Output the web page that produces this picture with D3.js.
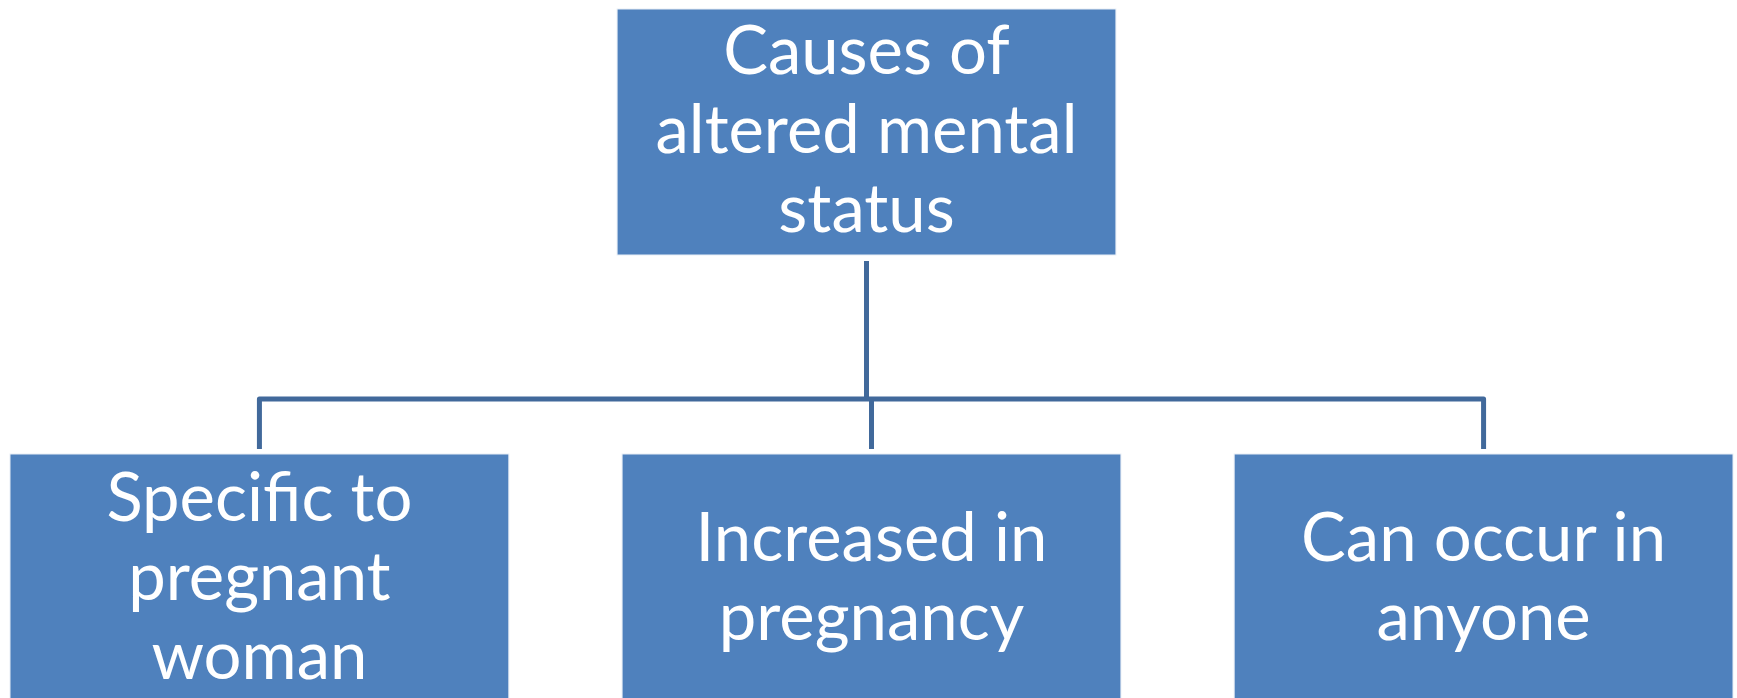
<!DOCTYPE html>
<html>
<head>
<meta charset="utf-8">
<script src="https://cdn.jsdelivr.net/npm/d3@7"></script>
<style>
  html, body { margin: 0; padding: 0; background: #fff; }
  svg { display: block; }
</style>
</head>
<body>
<div id="chart"></div>
<script>
// chart content
const rootLabel = ["Causes of", "altered mental", "status"];
const childNames = ["specific", "increased", "anyone"];
const childLabels = [
  ["Specific to", "pregnant", "woman"],
  ["Increased in", "pregnancy"],
  ["Can occur in", "anyone"]
];

const [width, height] = [1737, 698];
const boxFill = "#4f81bd";
const lineColor = "#41699b";
const fontSize = 67;
const lineGap = 79;

const svg = d3.select("#chart").append("svg").attr("width", width).attr("height", height);

const x = d3.scaleBand().domain(childNames).range([10, 1733]).paddingInner(0.185).paddingOuter(0);
const bw = x.bandwidth();
const rootX = x(childNames[1]) - 5;
const levelY = { root: 9, rootH: 246, bus: 399, child: 454, childH: 260 };

// connectors
const g = svg.append("g").attr("fill", "none").attr("stroke", lineColor).attr("stroke-width", 5);
g.append("line")
  .attr("x1", rootX + bw/2).attr("x2", rootX + bw/2)
  .attr("y1", levelY.root + levelY.rootH + 6).attr("y2", levelY.bus);
g.append("path")
  .attr("stroke-linejoin", "round")
  .attr("d", `M${x(childNames[0]) + bw/2},${levelY.child - 5}V${levelY.bus}H${x(childNames[2]) + bw/2}V${levelY.child - 5}`);
g.append("line")
  .attr("x1", x(childNames[1]) + bw/2).attr("x2", x(childNames[1]) + bw/2)
  .attr("y1", levelY.bus).attr("y2", levelY.child - 5);

const drawBox = (sel, x0, y0, h, lines, firstBase) => {
  sel.append("rect")
    .attr("x", x0).attr("y", y0).attr("width", bw).attr("height", h)
    .attr("fill", boxFill).attr("stroke", "#e8eef6").attr("stroke-width", 1);
  const t = sel.append("text")
    .attr("font-family", "Lato, 'Open Sans', sans-serif")
    .attr("font-size", fontSize)
    .attr("fill", "#fff")
    .attr("text-anchor", "middle");
  lines.forEach((l, i) => {
    t.append("tspan").attr("x", x0 + bw/2).attr("y", firstBase + i * lineGap).text(l);
  });
};

drawBox(svg.append("g"), rootX, levelY.root, levelY.rootH, rootLabel, 74);

childNames.forEach((name, i) => {
  const base = childLabels[i].length === 3 ? 521 : 561;
  drawBox(svg.append("g"), x(name), levelY.child, levelY.childH, childLabels[i], base);
});
</script>
</body>
</html>
